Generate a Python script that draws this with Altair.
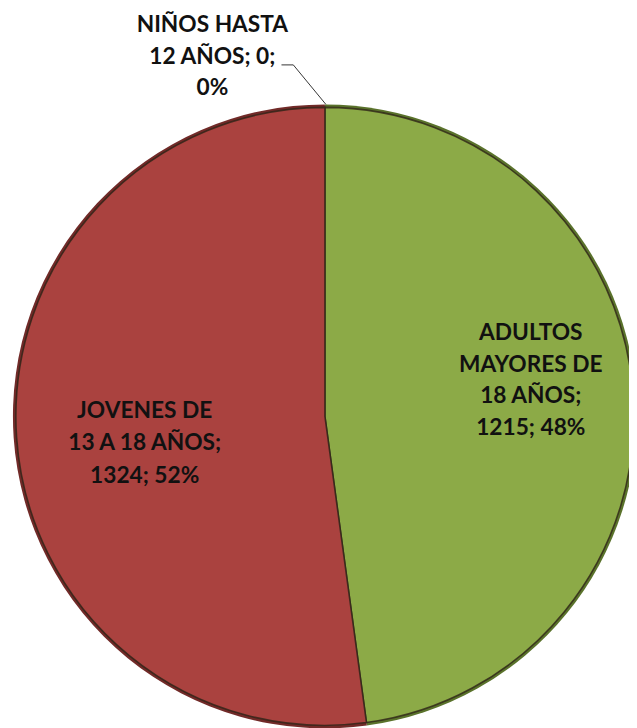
import altair as alt
import pandas as pd

# ---- data ----
keys = ["NINOS", "ADULTOS", "JOVENES"]
categories = ["NIÑOS HASTA 12 AÑOS", "ADULTOS MAYORES DE 18 AÑOS", "JOVENES DE 13 A 18 AÑOS"]
values = [0, 1215, 1324]
percents = ["0%", "48%", "52%"]
label_lines = [
    ["NIÑOS HASTA", "12 AÑOS; 0;", "0%"],
    ["ADULTOS", "MAYORES DE", "18 AÑOS;", "1215; 48%"],
    ["JOVENES DE", "13 A 18 AÑOS;", "1324; 52%"],
]
colors = ["#4F81BD", "#8CAA47", "#AA423F"]
edge_colors = ["#34557D", "#5A722B", "#712A28"]

df = pd.DataFrame({
    "key": keys,
    "cat": categories,
    "value": values,
    "pct": percents,
    "order": list(range(len(keys))),
    "label": ["\n".join(l) for l in label_lines],
})

# ---- layout (style) ----
W, H = 629, 720
CX, CY, R = 321, 409, 316
FONT = "Lato"
FS = 23
LH = 32

base = alt.Chart(df).encode(
    theta=alt.Theta("value:Q", stack=True),
    order=alt.Order("order:Q"),
)

edge = base.mark_arc(radius=R).encode(
    color=alt.Color("key:N", scale=alt.Scale(domain=keys, range=edge_colors), legend=None),
    x=alt.value(CX), y=alt.value(CY),
)
face = base.mark_arc(radius=R - 3, stroke="#2e2418", strokeWidth=1.6, strokeOpacity=0.8).encode(
    color=alt.Color("key2:N", scale=alt.Scale(domain=keys, range=colors), legend=None),
    x=alt.value(CX), y=alt.value(CY),
).transform_calculate(key2="datum.key")


def label_layer(k, n_lines, radius, dx, dy, lh=LH):
    return base.transform_calculate(
        t=f"datum.key == '{k}' ? datum.label : ''"
    ).mark_text(
        radius=radius, dx=dx, dy=dy - (n_lines - 1) * lh / 2, font=FONT, fontSize=FS,
        fontWeight="bold", lineBreak="\n", lineHeight=lh, align="center",
        baseline="middle", color="#111111",
    ).encode(text="t:N", x=alt.value(CX), y=alt.value(CY))


lab_n = label_layer("NINOS", 3, 362, -114, -2)
lab_a = label_layer("ADULTOS", 4, 209, 0, -22)
lab_j = label_layer("JOVENES", 3, 183, 0, 15, lh=33)

# leader line from the zero slice label to the top of the pie
top_x, top_y = CX + 1, CY - R
elbow_x, elbow_y = CX - 32, CY - R - 40
lead1 = alt.Chart(df.head(1)).mark_rule(color="#333333", strokeWidth=1).encode(
    x=alt.value(elbow_x), y=alt.value(elbow_y), x2=alt.value(top_x), y2=alt.value(top_y)
)
lead2 = alt.Chart(df.head(1)).mark_rule(color="#333333", strokeWidth=1).encode(
    x=alt.value(elbow_x - 12), y=alt.value(elbow_y), x2=alt.value(elbow_x), y2=alt.value(elbow_y)
)

chart = alt.layer(edge, face, lab_n, lab_a, lab_j, lead1, lead2).resolve_scale(
    color="independent"
).properties(
    width=W, height=H, autosize=alt.AutoSizeParams(type="none"), padding=0
).configure_view(stroke=None)

chart.save("out.html", embed_options={"renderer": "svg", "actions": False})
